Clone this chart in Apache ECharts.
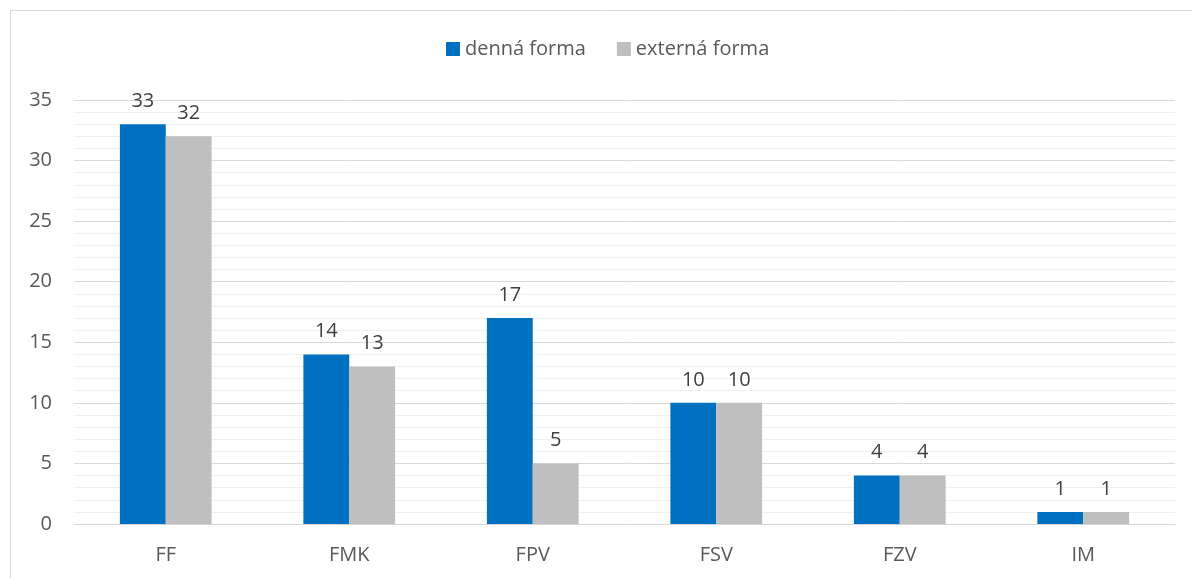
<!DOCTYPE html>
<html>
<head>
<meta charset="utf-8">
<script src="https://cdn.jsdelivr.net/npm/echarts@6/dist/echarts.min.js"></script>
<style>
  html, body { margin: 0; padding: 0; background: #fff; }
  #chart { width: 1192px; height: 578px; }
</style>
</head>
<body>
<div id="chart"></div>
<script>
const categories = ["FF", "FMK", "FPV", "FSV", "FZV", "IM"];
const dennaForma = [33, 14, 17, 10, 4, 1];
const externaForma = [32, 13, 5, 10, 4, 1];

const font = "'Open Sans', 'Noto Sans', sans-serif";

const chart = echarts.init(document.getElementById("chart"));

const labelStyle = {
  show: true,
  position: "top",
  distance: 13,
  color: "#404040",
  fontSize: 20,
  fontFamily: font,
};

chart.setOption({
  animation: false,
  textStyle: { fontFamily: font },
  // outer chart border
  graphic: [
    {
      type: "rect",
      shape: { x: 10.5, y: 10.5, width: 1200, height: 600 },
      style: { fill: "none", stroke: "#d9d9d9", lineWidth: 1 },
      z: -1,
    },
  ],
  legend: {
    top: 34,
    left: 441,
    itemWidth: 14,
    itemHeight: 14,
    itemGap: 31,
    icon: "rect",
    textStyle: { color: "#595959", fontSize: 20, fontFamily: font },
  },
  grid: {
    left: 74,
    right: 17,
    top: 100,
    bottom: 54,
  },
  xAxis: {
    type: "category",
    data: categories,
    axisLine: { lineStyle: { color: "#d9d9d9" } },
    axisTick: { show: false },
    axisLabel: {
      color: "#595959",
      fontSize: 20,
      margin: 21,
      fontFamily: font,
    },
  },
  yAxis: {
    type: "value",
    min: 0,
    max: 35,
    interval: 5,
    axisLine: { show: false },
    axisTick: { show: false },
    axisLabel: {
      color: "#595959",
      fontSize: 20,
      margin: 22,
      fontFamily: font,
    },
    splitLine: { lineStyle: { color: "#d9d9d9", width: 1 } },
    minorTick: { show: false, splitNumber: 5 },
    minorSplitLine: { show: true, lineStyle: { color: "#f0f0f0", width: 1 } },
  },
  series: [
    {
      name: "denná forma",
      type: "bar",
      data: dennaForma,
      barGap: "0%",
      barCategoryGap: "50%",
      itemStyle: { color: "#0070c0" },
      label: labelStyle,
    },
    {
      name: "externá forma",
      type: "bar",
      data: externaForma,
      itemStyle: { color: "#bfbfbf" },
      label: labelStyle,
    },
  ],
});
</script>
</body>
</html>
